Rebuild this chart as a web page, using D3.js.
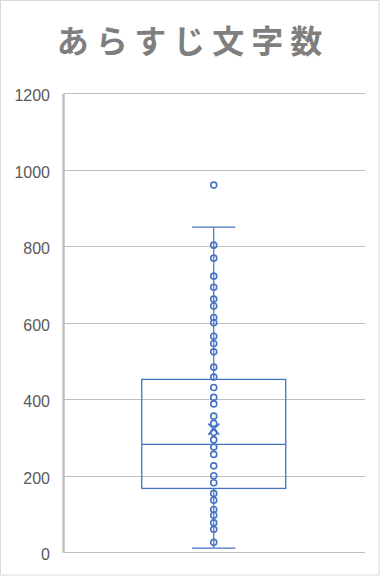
<!DOCTYPE html>
<html><head><meta charset="utf-8">
<script src="https://cdn.jsdelivr.net/npm/d3@7/dist/d3.min.js"></script>
<style>html,body{margin:0;padding:0;background:#fff;}svg{display:block;}</style>
</head><body>
<svg id="chart" width="380" height="576"></svg>
<script>
const title = "あらすじ文字数";
const categories = ["あらすじ文字数"];
const yTicks = [0, 200, 400, 600, 800, 1000, 1200];
// box statistics: [lowerWhisker, q1, median, q3, upperWhisker]
const boxStats = [11, 167, 282, 452, 850];
const meanValue = 322;
const innerPoints = [803, 769, 722, 693, 662, 644, 614, 600, 565, 546, 524, 484, 458, 431, 405, 388, 356,
  337, 313, 294, 275, 256, 226, 200, 182, 154, 136, 112, 97, 77, 60, 26];
const outliers = [960];

const svg = d3.select("#chart");
const W = 380, H = 576;
const blue = "#4472C4";

svg.append("rect").attr("x", 0.5).attr("y", 0.5).attr("width", W - 1.5).attr("height", H - 1.5)
  .attr("fill", "#fff").attr("stroke", "#d9d9d9").attr("stroke-width", 1);

svg.append("text").attr("x", 193).attr("y", 53).attr("text-anchor", "middle")
  .attr("font-family", "'Noto Sans CJK JP'").attr("font-weight", "bold")
  .attr("font-size", 32).attr("letter-spacing", 7).attr("fill", "#7f7f7f").text(title);

const y = d3.scaleLinear().domain([0, 1200]).range([552.3, 93.3]);
const x = d3.scaleBand().domain(categories).range([63, 364.5]).paddingInner(0).paddingOuter(0.547);

// gridlines
svg.append("g").selectAll("line").data(yTicks).join("line")
  .attr("x1", 64).attr("x2", 365)
  .attr("y1", d => Math.round(y(d)) + 0.5).attr("y2", d => Math.round(y(d)) + 0.5)
  .attr("stroke", "#bfbfbf").attr("stroke-width", 1);

// y axis
const yAxis = d3.axisLeft(y).tickValues(yTicks).tickFormat(d3.format("d")).tickSize(0).tickPadding(13);
const gy = svg.append("g").attr("transform", "translate(63,0)").call(yAxis);
gy.select(".domain").attr("stroke", "#bfbfbf").attr("stroke-width", 2.5);
gy.selectAll("text").attr("font-family", "'Liberation Sans', Arial, sans-serif")
  .attr("font-size", 16).attr("fill", "#595959").attr("dy", "0.45em");

const cx = x(categories[0]) + x.bandwidth() / 2;
const bw = x.bandwidth();
const capW = bw * 0.3;
const g = svg.append("g");
const [lw, q1, med, q3, uw] = boxStats;

// whiskers
g.append("line").attr("x1", cx).attr("x2", cx).attr("y1", y(q3)).attr("y2", y(uw)).attr("stroke", blue).attr("stroke-width", 1.2);
g.append("line").attr("x1", cx).attr("x2", cx).attr("y1", y(q1)).attr("y2", y(lw)).attr("stroke", blue).attr("stroke-width", 1.2);
g.selectAll("line.cap").data([lw, uw]).join("line").attr("class", "cap")
  .attr("x1", cx - capW / 2).attr("x2", cx + capW / 2)
  .attr("y1", d => y(d)).attr("y2", d => y(d)).attr("stroke", blue).attr("stroke-width", 1.3);

// box
g.append("rect").attr("x", x(categories[0])).attr("y", y(q3)).attr("width", bw).attr("height", y(q1) - y(q3))
  .attr("fill", "none").attr("stroke", blue).attr("stroke-width", 1.3);
g.append("line").attr("x1", x(categories[0])).attr("x2", x(categories[0]) + bw)
  .attr("y1", y(med)).attr("y2", y(med)).attr("stroke", blue).attr("stroke-width", 1.3);

// points
g.selectAll("circle.pt").data(innerPoints.concat(outliers)).join("circle").attr("class", "pt")
  .attr("cx", cx).attr("cy", d => y(d)).attr("r", 3)
  .attr("fill", "none").attr("stroke", blue).attr("stroke-width", 1.6);

// mean marker
const my = y(meanValue), s = 5.5;
g.append("path").attr("d", `M${cx - s},${my - s}L${cx + s},${my + s}M${cx - s},${my + s}L${cx + s},${my - s}`)
  .attr("stroke", blue).attr("stroke-width", 1.6).attr("fill", "none");
</script>
</body></html>
